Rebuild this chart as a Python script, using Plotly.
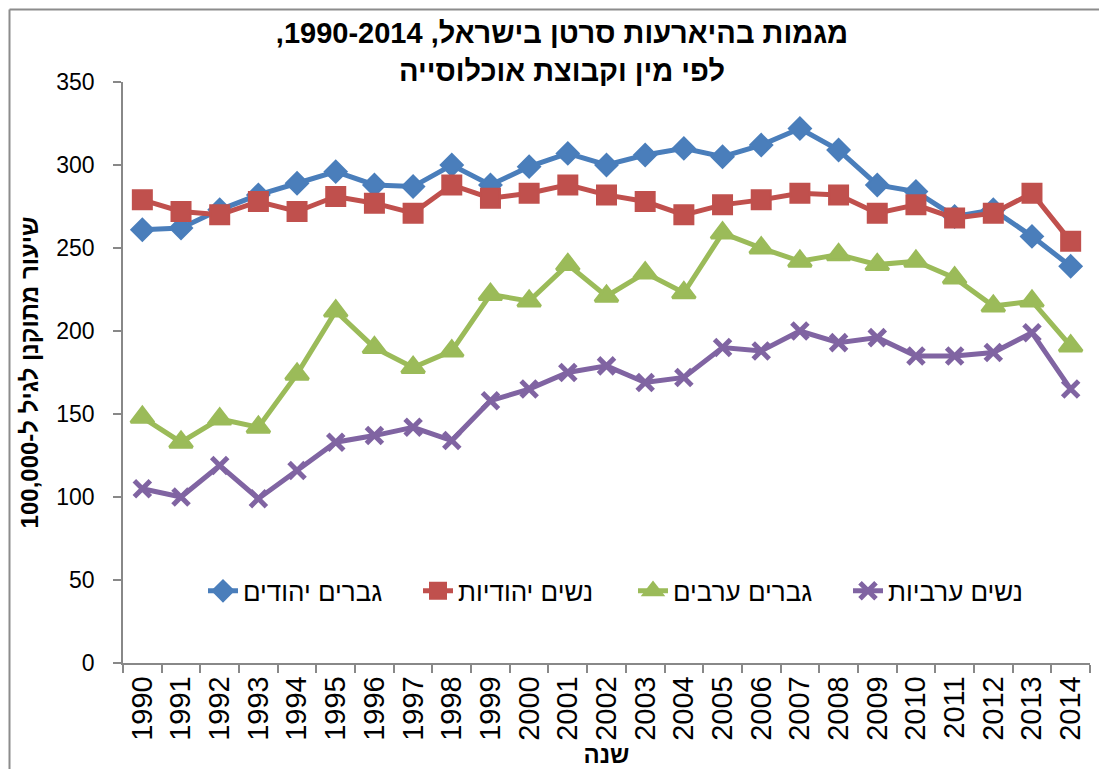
import plotly.graph_objects as go

years = [str(y) for y in range(1990, 2015)]
jewish_men = [261, 262, 273, 282, 289, 296, 288, 287, 300, 288, 299, 307, 300,
              306, 310, 305, 312, 322, 309, 288, 284, 269, 273, 257, 239]
jewish_women = [279, 272, 270, 278, 272, 281, 277, 271, 288, 280, 283, 288, 282,
                278, 270, 276, 279, 283, 282, 271, 276, 268, 271, 283, 254]
arab_men = [148, 133, 147, 142, 174, 212, 190, 178, 188, 222, 218, 240, 221,
            235, 223, 259, 250, 242, 246, 240, 242, 232, 215, 218, 191]
arab_women = [105, 100, 119, 99, 116, 133, 137, 142, 134, 158, 165, 175, 179,
              169, 172, 190, 188, 200, 193, 196, 185, 185, 187, 199, 165]

series_names = ["גברים יהודים", "נשים יהודיות", "גברים ערבים", "נשים ערביות"]
title_line1 = "מגמות בהיארעות סרטן בישראל, 1990-2014,"
title_line2 = "לפי מין וקבוצת אוכלוסייה"
y_title = "שיעור מתוקנן לגיל ל-100,000"
x_title = "שנה"

FONT = "Liberation Sans, Arial, sans-serif"

# page body has an 8px margin, so the figure is 1099x761 placed at (8, 8)
W, H = 1099, 761
ML, MR, MT, MB = 115, 17, 74, 106
PW, PH = W - ML - MR, H - MT - MB

styles = [
    dict(color="#4A7EBB", symbol="diamond", size=17, lw=2),
    dict(color="#C0504D", symbol="square", size=19, lw=2),
    dict(color="#9BBB59", symbol="triangle-up", size=20, lw=3),
    dict(color="#8064A2", symbol="x-thin", size=16, lw=5),
]

fig = go.Figure()
for name, vals, st in zip(series_names, [jewish_men, jewish_women, arab_men, arab_women], styles):
    fig.add_trace(go.Scatter(
        x=years, y=vals, name=name, mode="lines+markers",
        line=dict(color=st["color"], width=5),
        marker=dict(symbol=st["symbol"], size=st["size"], color=st["color"],
                    line=dict(color=st["color"], width=st["lw"])),
    ))

fig.update_layout(
    width=W, height=H,
    paper_bgcolor="white", plot_bgcolor="white",
    margin=dict(l=ML, r=MR, t=MT, b=MB, autoexpand=False),
    font=dict(family=FONT, color="black"),
    title=dict(
        text="\u200f" + title_line1 + "\u200f<br>" + title_line2,
        x=(562 - 8) / W, xanchor="center", xref="container",
        y=0.954, yanchor="top", yref="container",
        font=dict(family=FONT, size=29, color="black", weight="bold"),
    ),
    showlegend=True,
    legend=dict(
        orientation="h", x=(203 - 123) / PW, xanchor="left", y=0.124, yanchor="middle",
        font=dict(family=FONT, size=26, color="black"),
        bgcolor="rgba(0,0,0,0)", traceorder="normal",
        entrywidth=170, entrywidthmode="pixels",
    ),
    xaxis=dict(
        type="category", range=[-0.5, 24.5],
        showline=True, linecolor="#888888", linewidth=1.5,
        ticks="outside", ticklen=8, tickcolor="#888888", tickwidth=1.5,
        tickson="boundaries", tickangle=-90, showgrid=False, zeroline=False,
        tickfont=dict(family=FONT, size=29, color="black"),
        title=dict(text=x_title, standoff=6,
                   font=dict(family=FONT, size=24, color="black", weight="bold")),
    ),
    yaxis=dict(
        range=[0, 350], dtick=50, tick0=0,
        showline=True, linecolor="#888888", linewidth=1.5,
        ticks="outside", ticklen=8, tickcolor="#888888", tickwidth=1.5,
        showgrid=False, zeroline=False, ticklabelstandoff=14,
        tickfont=dict(family=FONT, size=23, color="black"),
        title=dict(text=y_title, standoff=11,
                   font=dict(family=FONT, size=24, color="black", weight="bold")),
    ),
)

# outer chart frame (left and top edges visible; the rest is cropped in the reference)
frame_left = (1.5 - ML) / PW
frame_top = (PH + MT - 1.5) / PH
fig.add_shape(type="line", xref="paper", yref="paper",
              x0=frame_left, x1=frame_left, y0=-0.2, y1=frame_top,
              line=dict(color="#8C8C8C", width=2), layer="above")
fig.add_shape(type="line", xref="paper", yref="paper",
              x0=frame_left, x1=1.05, y0=frame_top, y1=frame_top,
              line=dict(color="#8C8C8C", width=2), layer="above")

fig.write_html("out.html")
